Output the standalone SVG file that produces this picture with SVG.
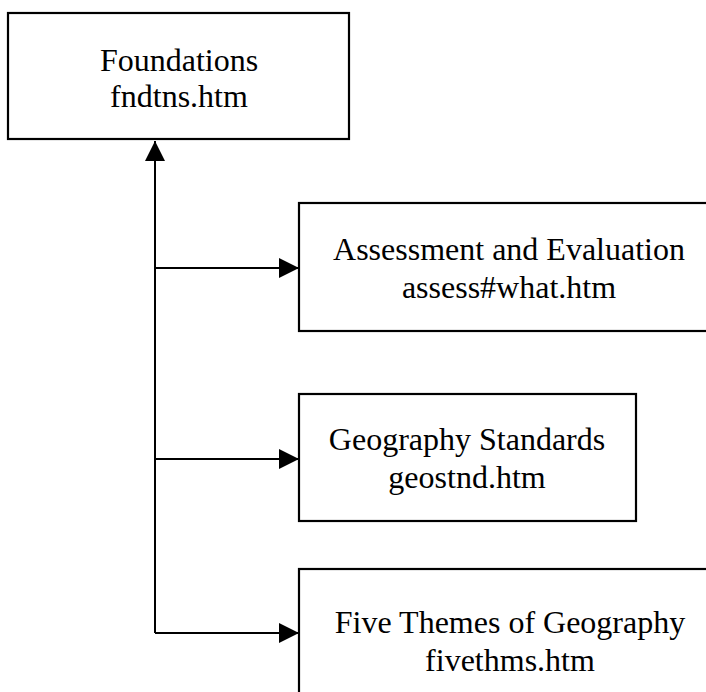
<svg xmlns="http://www.w3.org/2000/svg" width="706" height="692" viewBox="0 0 706 692">
  <style>
    .box { fill: #ffffff; stroke: #000000; stroke-width: 2.2; }
    .lbl { font-family: "Liberation Serif", "Times New Roman", serif; font-size: 32px; fill: #000000; text-anchor: middle; }
    .wire { fill: none; stroke: #000000; stroke-width: 2; }
  </style>
  <defs>
    <marker id="head" viewBox="0 0 20 20" refX="20" refY="10" markerWidth="20" markerHeight="20" markerUnits="userSpaceOnUse" orient="auto">
      <path d="M0,0 L20,10 L0,20 Z" fill="#000000"/>
    </marker>
  </defs>
  <rect width="706" height="692" fill="#ffffff"/>

  <g id="connectors">
    <!-- trunk up to the parent page -->
    <path class="wire" d="M155,633 L155,141" marker-end="url(#head)"/>
    <!-- branches out to the child pages -->
    <path class="wire" d="M155,268 L299,268" marker-end="url(#head)"/>
    <path class="wire" d="M155,459 L299,459" marker-end="url(#head)"/>
    <path class="wire" d="M155,633 L299,633" marker-end="url(#head)"/>
  </g>

  <g id="foundations">
    <rect class="box" x="8" y="13" width="341" height="126"/>
    <text class="lbl" x="179" y="71">Foundations</text>
    <text class="lbl" x="179" y="107">fndtns.htm</text>
  </g>

  <g id="assessment">
    <rect class="box" x="299" y="203" width="420" height="128"/>
    <text class="lbl" x="509" y="260">Assessment and Evaluation</text>
    <text class="lbl" x="509" y="298">assess#what.htm</text>
  </g>

  <g id="standards">
    <rect class="box" x="299" y="394" width="337" height="127"/>
    <text class="lbl" x="467" y="450">Geography Standards</text>
    <text class="lbl" x="467" y="488">geostnd.htm</text>
  </g>

  <g id="themes">
    <rect class="box" x="299" y="569" width="420" height="140"/>
    <text class="lbl" x="510" y="633">Five Themes of Geography</text>
    <text class="lbl" x="510" y="671">fivethms.htm</text>
  </g>
</svg>
